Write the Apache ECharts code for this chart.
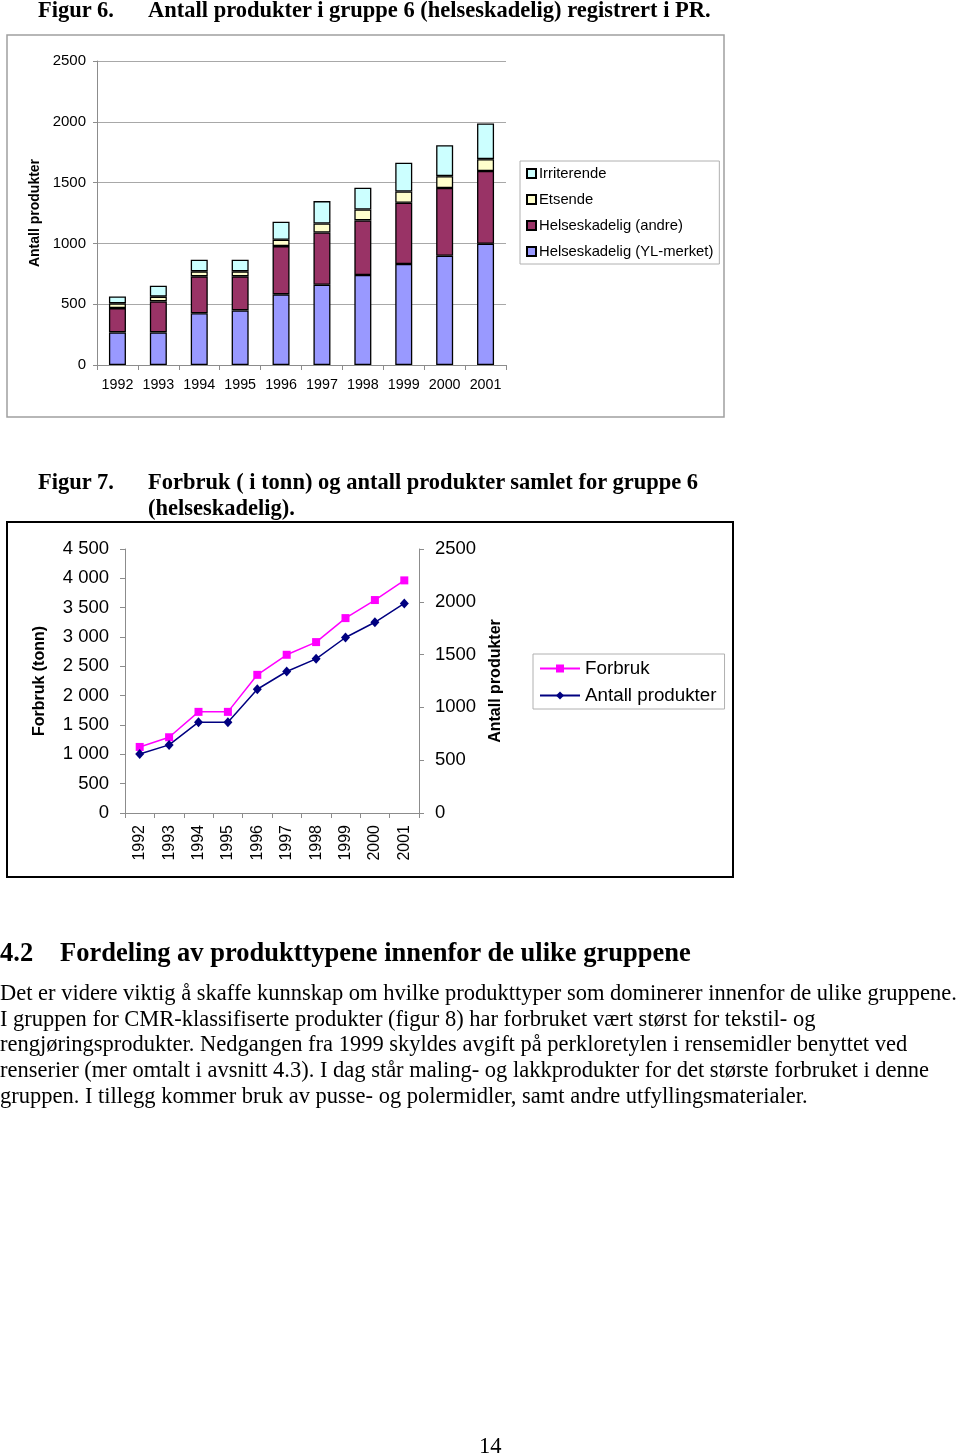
<!DOCTYPE html>
<html>
<head>
<meta charset="utf-8">
<script src="https://cdn.jsdelivr.net/npm/echarts@6/dist/echarts.min.js"></script>
<style>
  html, body { margin: 0; padding: 0; background: #fff; }
  #page { position: relative; width: 960px; height: 1456px; overflow: hidden; }
  #chart { position: absolute; left: 0; top: 0; width: 960px; height: 1456px; }
  .t { position: absolute; white-space: nowrap; font-family: "Liberation Serif", "Times New Roman", serif; color: #000; }
  .b { font-weight: bold; }
</style>
</head>
<body>
<div id="page">
  <div id="chart"></div>
  <div class="t b" style="left:38px; top:-3px; font-size:22.5px; line-height:26px;">Figur 6.</div>
  <div class="t b" style="left:148px; top:-3px; font-size:22.5px; line-height:26px;">Antall produkter i gruppe 6 (helseskadelig) registrert i PR.</div>
  <div class="t b" style="left:38px; top:469px; font-size:22.5px; line-height:26px;">Figur 7.</div>
  <div class="t b" style="left:148px; top:469px; font-size:22.5px; line-height:26px;">Forbruk ( i tonn) og antall produkter samlet for gruppe 6</div>
  <div class="t b" style="left:148px; top:495px; font-size:22.5px; line-height:26px;">(helseskadelig).</div>
  <div class="t b" style="left:0px; top:937px; font-size:26.5px; line-height:30px;">4.2</div>
  <div class="t b" style="left:60px; top:937px; font-size:26.5px; line-height:30px;">Fordeling av produkttypene innenfor de ulike gruppene</div>
  <div class="t" style="left:0px; top:980px; font-size:22.5px; line-height:26px;">Det er videre viktig å skaffe kunnskap om hvilke produkttyper som dominerer innenfor de ulike gruppene.</div>
  <div class="t" style="left:0px; top:1006px; font-size:22.5px; line-height:26px;">I gruppen for CMR-klassifiserte produkter (figur 8) har forbruket vært størst for tekstil- og</div>
  <div class="t" style="left:0px; top:1031px; font-size:22.5px; line-height:26px;">rengjøringsprodukter. Nedgangen fra 1999 skyldes avgift på perkloretylen i rensemidler benyttet ved</div>
  <div class="t" style="left:0px; top:1057px; font-size:22.5px; line-height:26px;">renserier (mer omtalt i avsnitt 4.3). I dag står maling- og lakkprodukter for det største forbruket i denne</div>
  <div class="t" style="left:0px; top:1083px; font-size:22.5px; line-height:26px;">gruppen. I tillegg kommer bruk av pusse- og polermidler, samt andre utfyllingsmaterialer.</div>
  <div class="t" style="left:479px; top:1433px; font-size:22.5px; line-height:26px;">14</div>
</div>
<script>
// ---- Data ----
var years = ['1992','1993','1994','1995','1996','1997','1998','1999','2000','2001'];
var ylMerket    = [268, 268, 425, 449, 581, 660, 740, 830, 899, 997];
var andre       = [200, 255, 304, 280, 397, 430, 449, 504, 556, 598];
var etsende     = [ 39,  39,  41,  41,  52,  74,  90,  93,  98,  98];
var irriterende = [ 57,  90,  96,  96, 148, 184, 179, 236, 255, 293];
var forbruk     = [1126, 1291, 1724, 1724, 2355, 2697, 2913, 3322, 3630, 3965];
var antall      = [ 558,  645,  860,  860, 1172, 1340, 1460, 1662, 1806, 1985];
var fig6Ticks   = {min: 0, max: 2500, interval: 500};
var fig7LeftTicks  = {min: 0, max: 4500, interval: 500};
var fig7RightTicks = {min: 0, max: 2500, interval: 500};

var SANS = '"Liberation Sans", Arial, sans-serif';
var axisGray = '#8c8c8c';

function spaced(v) {
  return String(v).replace(/\B(?=(\d{3})+(?!\d))/g, ' ');
}
function plain(v) { return String(v); }

var chart = echarts.init(document.getElementById('chart'), null, {renderer: 'canvas'});

var barStyle = function (color) {
  return {color: color, borderColor: '#000', borderWidth: 1.3};
};

var option = {
  animation: false,
  textStyle: {fontFamily: SANS, color: '#000'},
  graphic: [
    {type: 'rect', shape: {x: 7, y: 35, width: 717, height: 382},
     style: {fill: 'none', stroke: '#a0a0a0', lineWidth: 1.5}, z: -1},
    {type: 'rect', shape: {x: 7, y: 522, width: 726, height: 355},
     style: {fill: 'none', stroke: '#000', lineWidth: 2}, z: -1}
  ],
  grid: [
    {left: 97, top: 61, width: 409, height: 304},
    {left: 125, top: 549, width: 294, height: 264}
  ],
  legend: [
    {
      data: ['Irriterende', 'Etsende', 'Helseskadelig (andre)', 'Helseskadelig (YL-merket)'],
      orient: 'vertical', left: 520, top: 161,
      icon: 'rect', itemWidth: 9, itemHeight: 9, itemGap: 11,
      padding: [5, 6, 5, 6],
      borderColor: '#b0b0b0', borderWidth: 1,
      textStyle: {fontFamily: SANS, fontSize: 14.8, color: '#000', padding: [0, 0, 0, -2]}
    },
    {
      data: ['Forbruk', 'Antall produkter'],
      orient: 'vertical', left: 533, top: 654,
      itemWidth: 40, itemHeight: 10, itemGap: 8,
      padding: [5, 8, 4, 6],
      borderColor: '#b0b0b0', borderWidth: 1,
      textStyle: {fontFamily: SANS, fontSize: 18.8, color: '#000'}
    }
  ],
  xAxis: [
    {
      type: 'category', gridIndex: 0, data: years,
      axisLine: {lineStyle: {color: axisGray, width: 1}},
      axisTick: {show: true, length: 5, interval: 0, lineStyle: {color: axisGray}},
      axisLabel: {fontSize: 14.3, margin: 13, interval: 0, color: '#000', fontFamily: SANS}
    },
    {
      type: 'category', gridIndex: 1, data: years,
      axisLine: {lineStyle: {color: axisGray, width: 1}},
      axisTick: {show: true, length: 5, interval: 0, lineStyle: {color: axisGray}},
      axisLabel: {fontSize: 16, margin: 12, rotate: 90, interval: 0, color: '#000', fontFamily: SANS}
    }
  ],
  yAxis: [
    {
      type: 'value', gridIndex: 0,
      min: fig6Ticks.min, max: fig6Ticks.max, interval: fig6Ticks.interval,
      name: 'Antall produkter', nameLocation: 'middle', nameGap: 55, nameRotate: 90,
      nameTextStyle: {fontSize: 14, fontWeight: 'bold', color: '#000', fontFamily: SANS},
      axisLine: {show: true, lineStyle: {color: axisGray, width: 1}},
      axisTick: {show: true, length: 4, lineStyle: {color: axisGray}},
      splitLine: {show: true, lineStyle: {color: '#a8a8a8', width: 1}},
      axisLabel: {fontSize: 15, margin: 11, color: '#000', fontFamily: SANS, formatter: plain}
    },
    {
      type: 'value', gridIndex: 1, position: 'left',
      min: fig7LeftTicks.min, max: fig7LeftTicks.max, interval: fig7LeftTicks.interval,
      name: 'Forbruk (tonn)', nameLocation: 'middle', nameGap: 77, nameRotate: 90,
      nameTextStyle: {fontSize: 16, fontWeight: 'bold', color: '#000', fontFamily: SANS},
      axisLine: {show: true, lineStyle: {color: axisGray, width: 1}},
      axisTick: {show: true, length: 5, lineStyle: {color: axisGray}},
      splitLine: {show: false},
      axisLabel: {fontSize: 18.5, margin: 16, color: '#000', fontFamily: SANS, formatter: spaced}
    },
    {
      type: 'value', gridIndex: 1, position: 'right',
      min: fig7RightTicks.min, max: fig7RightTicks.max, interval: fig7RightTicks.interval,
      name: 'Antall produkter', nameLocation: 'middle', nameGap: 69, nameRotate: 90,
      nameTextStyle: {fontSize: 16, fontWeight: 'bold', color: '#000', fontFamily: SANS},
      axisLine: {show: true, lineStyle: {color: axisGray, width: 1}},
      axisTick: {show: true, length: 5, lineStyle: {color: axisGray}},
      splitLine: {show: false},
      axisLabel: {fontSize: 18.5, margin: 16, color: '#000', fontFamily: SANS, formatter: plain}
    }
  ],
  series: [
    {name: 'Helseskadelig (YL-merket)', type: 'bar', stack: 'fig6', xAxisIndex: 0, yAxisIndex: 0,
     barWidth: 17, data: ylMerket, itemStyle: barStyle('#9999FF')},
    {name: 'Helseskadelig (andre)', type: 'bar', stack: 'fig6', xAxisIndex: 0, yAxisIndex: 0,
     barWidth: 17, data: andre, itemStyle: barStyle('#993366')},
    {name: 'Etsende', type: 'bar', stack: 'fig6', xAxisIndex: 0, yAxisIndex: 0,
     barWidth: 17, data: etsende, itemStyle: barStyle('#FFFFCC')},
    {name: 'Irriterende', type: 'bar', stack: 'fig6', xAxisIndex: 0, yAxisIndex: 0,
     barWidth: 17, data: irriterende, itemStyle: barStyle('#CCFFFF')},
    {name: 'Forbruk', type: 'line', xAxisIndex: 1, yAxisIndex: 1, data: forbruk,
     symbol: 'rect', symbolSize: 8,
     lineStyle: {color: '#FF00FF', width: 1.5}, itemStyle: {color: '#FF00FF'}},
    {name: 'Antall produkter', type: 'line', xAxisIndex: 1, yAxisIndex: 2, data: antall,
     symbol: 'diamond', symbolSize: [9, 10],
     lineStyle: {color: '#000080', width: 1.5}, itemStyle: {color: '#000080'}}
  ]
};
chart.setOption(option);
</script>
</body>
</html>
